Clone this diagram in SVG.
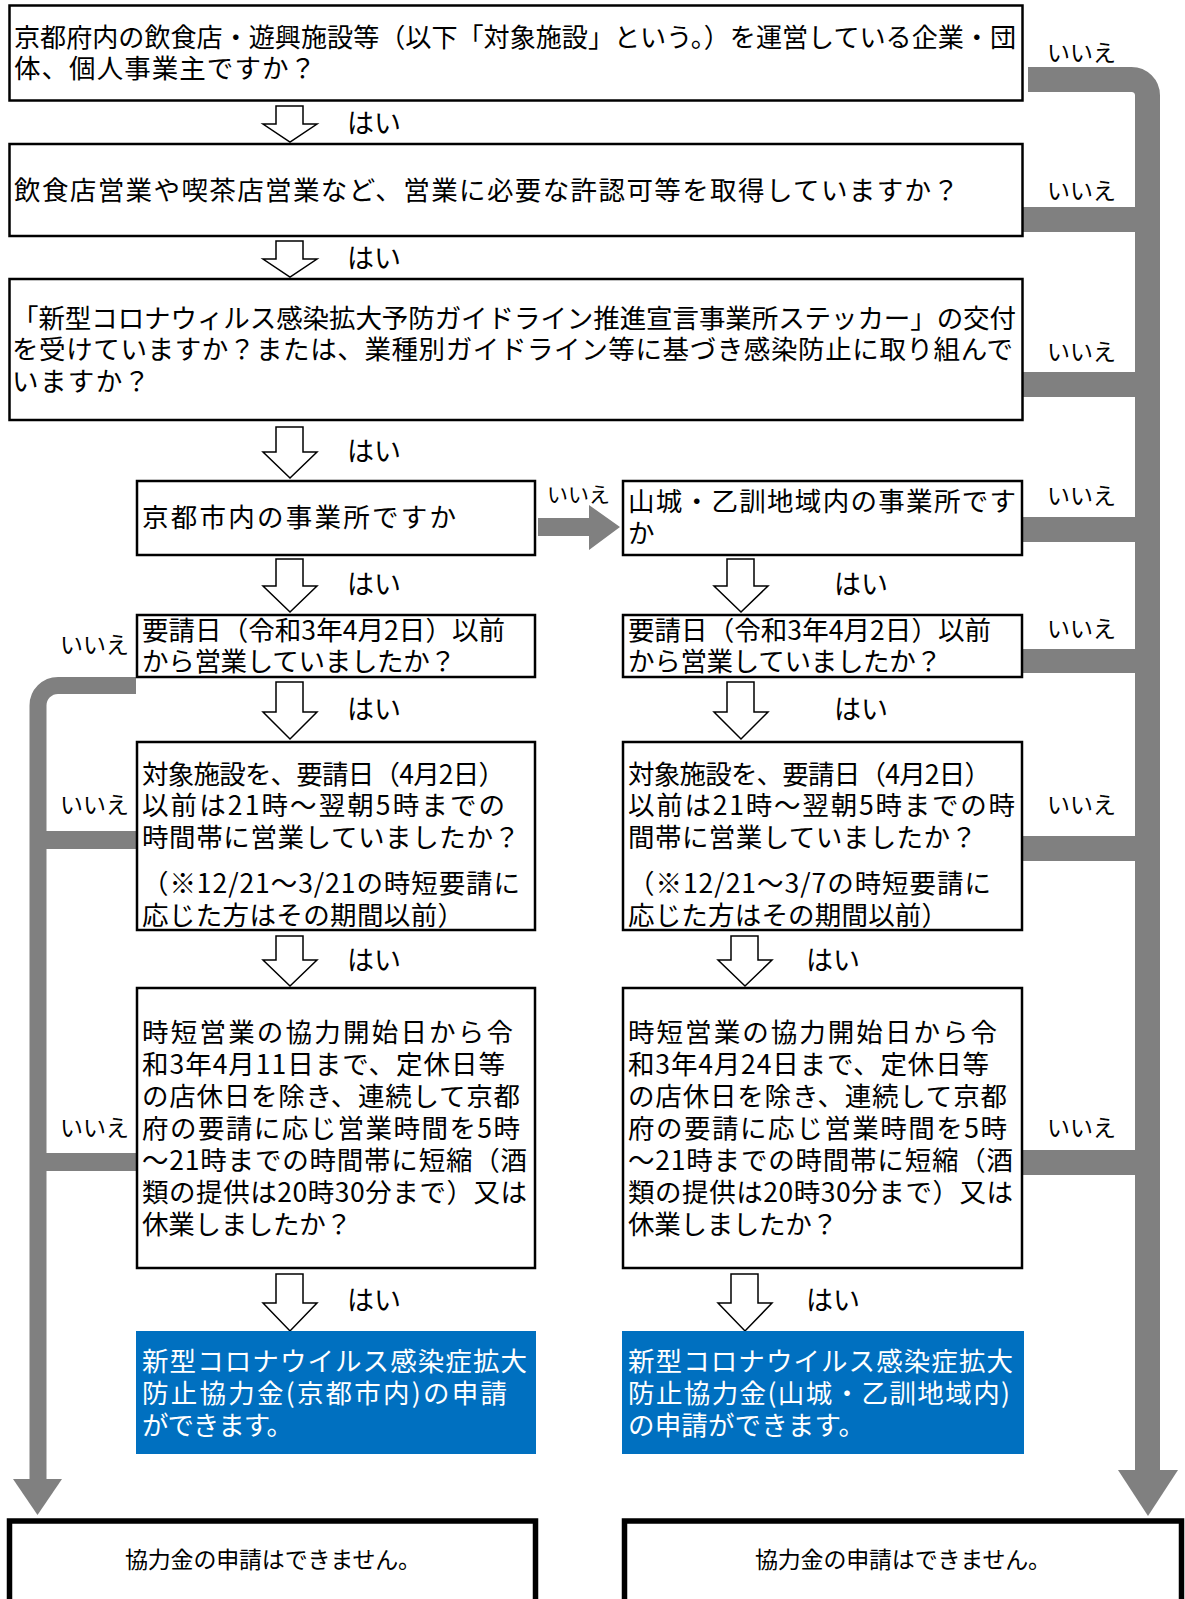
<svg xmlns="http://www.w3.org/2000/svg" width="1185" height="1599" viewBox="0 0 1185 1599">
<style>
text{font-family:"Noto Sans CJK JP","Noto Sans CJK SC",sans-serif;fill:#000}
.t{font-size:26.5px}
.w{font-size:26.5px;fill:#fff}
.no{font-size:23px}
.nm{font-size:21px}
.yes{font-size:27px}
.fin{font-size:23px}
.box{fill:#fff;stroke:#000;stroke-width:2.5}
.fbox{fill:#fff;stroke:#000;stroke-width:5.5}
.blue{fill:#0070C0}
.ya{fill:#fff;stroke:#000;stroke-width:1.5;stroke-linejoin:miter}
.g{fill:#808080}
.gl{fill:none;stroke:#808080}
</style>
<g id="connectors">
<path class="gl" stroke-width="25" d="M1028,79.5 H1131.5 A16,16 0 0 1 1147.5,95.5 V1474"/>
<polygon class="g" points="1118,1470 1178,1470 1148,1516"/>
<rect class="g" x="1020" y="207" width="128" height="25" rx="2"/>
<rect class="g" x="1022" y="372" width="126" height="25"/>
<rect class="g" x="1022" y="517" width="126" height="25"/>
<rect class="g" x="1020" y="649" width="128" height="24" rx="2"/>
<rect class="g" x="1020" y="836" width="128" height="25" rx="2"/>
<rect class="g" x="1020" y="1150" width="128" height="25" rx="2"/>
<path class="gl" stroke-width="17" d="M136,685.5 H58 A20,20 0 0 0 38,705.5 V1482"/>
<polygon class="g" points="13,1479 62,1479 37.5,1515"/>
<rect class="g" x="38" y="831" width="98" height="18"/>
<rect class="g" x="38" y="1153" width="98" height="18"/>
<polygon class="g" points="538,518 589,518 589,505 620,527 589,550 589,536 538,536"/>
<polygon class="ya" points="276,106 303,106 303,124 317,124 290,142 263,124 276,124"/>
<polygon class="ya" points="276,241 303,241 303,259 317,259 290,277 263,259 276,259"/>
<polygon class="ya" points="276,427 303,427 303,452 317,452 290,478 263,452 276,452"/>
<polygon class="ya" points="276,559 303,559 303,586 317,586 290,612 263,586 276,586"/>
<polygon class="ya" points="727,559 754,559 754,586 768,586 741,612 714,586 727,586"/>
<polygon class="ya" points="276,682 303,682 303,712 317,712 290,739 263,712 276,712"/>
<polygon class="ya" points="727,682 754,682 754,712 768,712 741,739 714,712 727,712"/>
<polygon class="ya" points="276,936 303,936 303,960 317,960 290,986 263,960 276,960"/>
<polygon class="ya" points="731,936 758,936 758,960 772,960 745,986 718,960 731,960"/>
<polygon class="ya" points="276,1274 303,1274 303,1303 317,1303 290,1331 263,1303 276,1303"/>
<polygon class="ya" points="731,1274 758,1274 758,1303 772,1303 745,1331 718,1303 731,1303"/>
<text class="yes" x="347" y="133">はい</text>
<text class="yes" x="347" y="268">はい</text>
<text class="yes" x="347" y="461">はい</text>
<text class="yes" x="347" y="594">はい</text>
<text class="yes" x="834" y="594">はい</text>
<text class="yes" x="347" y="719">はい</text>
<text class="yes" x="834" y="719">はい</text>
<text class="yes" x="347" y="970">はい</text>
<text class="yes" x="806" y="970">はい</text>
<text class="yes" x="347" y="1310">はい</text>
<text class="yes" x="806" y="1310">はい</text>
<text class="no" x="1047" y="61">いいえ</text>
<text class="no" x="1047" y="199">いいえ</text>
<text class="no" x="1047" y="360">いいえ</text>
<text class="no" x="1047" y="504">いいえ</text>
<text class="no" x="1047" y="637">いいえ</text>
<text class="no" x="1047" y="813">いいえ</text>
<text class="no" x="1047" y="1136">いいえ</text>
<text class="no" x="60" y="653">いいえ</text>
<text class="no" x="60" y="813">いいえ</text>
<text class="no" x="60" y="1136">いいえ</text>
<text class="nm" x="547" y="502">いいえ</text>
</g>
<g id="q1">
<rect class="box" x="9.5" y="5.5" width="1013" height="95"/>
<text class="t" x="14" y="47" textLength="1002" lengthAdjust="spacingAndGlyphs">京都府内の飲食店・遊興施設等（以下「対象施設」という。）を運営している企業・団</text>
<text class="t" x="14" y="78" textLength="302">体、個人事業主ですか？</text>
</g>
<g id="q2">
<rect class="box" x="9.5" y="144" width="1013" height="92"/>
<text class="t" x="14" y="200" textLength="945">飲食店営業や喫茶店営業など、営業に必要な許認可等を取得していますか？</text>
</g>
<g id="q3">
<rect class="box" x="9.5" y="279" width="1013" height="141"/>
<text class="t" x="12" y="328" textLength="1004">「新型コロナウィルス感染拡大予防ガイドライン推進宣言事業所ステッカー」の交付</text>
<text class="t" x="12" y="359" textLength="1001">を受けていますか？または、業種別ガイドライン等に基づき感染防止に取り組んで</text>
<text class="t" x="12" y="391" textLength="138">いますか？</text>
</g>
<g id="q4-kyoto">
<rect class="box" x="137" y="481" width="398" height="74"/>
<text class="t" x="142" y="527" textLength="314">京都市内の事業所ですか</text>
</g>
<g id="q4-yamashiro">
<rect class="box" x="623" y="481" width="399" height="74"/>
<text class="t" x="628" y="511" textLength="388">山城・乙訓地域内の事業所です</text>
<text class="t" x="628" y="543">か</text>
</g>
<g id="q5-left">
<rect class="box" x="137" y="615" width="398" height="62"/>
<text class="t" x="142" y="640" textLength="363">要請日（令和3年4月2日）以前</text>
<text class="t" x="142" y="671" textLength="314">から営業していましたか？</text>
</g>
<g id="q5-right">
<rect class="box" x="623" y="615" width="399" height="62"/>
<text class="t" x="628" y="640" textLength="363">要請日（令和3年4月2日）以前</text>
<text class="t" x="628" y="671" textLength="314">から営業していましたか？</text>
</g>
<g id="q6-left">
<rect class="box" x="137" y="742" width="398" height="188"/>
<text class="t" x="142" y="784" textLength="363">対象施設を、要請日（4月2日）</text>
<text class="t" x="142" y="815" textLength="363">以前は21時～翌朝5時までの</text>
<text class="t" x="142" y="847" textLength="378">時間帯に営業していましたか？</text>
<text class="t" x="142" y="893" textLength="378">（※12/21～3/21の時短要請に</text>
<text class="t" x="142" y="925" textLength="322">応じた方はその期間以前）</text>
</g>
<g id="q6-right">
<rect class="box" x="623" y="742" width="399" height="188"/>
<text class="t" x="628" y="784" textLength="363">対象施設を、要請日（4月2日）</text>
<text class="t" x="628" y="815" textLength="387">以前は21時～翌朝5時までの時</text>
<text class="t" x="628" y="847" textLength="349">間帯に営業していましたか？</text>
<text class="t" x="628" y="893" textLength="363">（※12/21～3/7の時短要請に</text>
<text class="t" x="628" y="925" textLength="320">応じた方はその期間以前）</text>
</g>
<g id="q7-left">
<rect class="box" x="137" y="988" width="398" height="280"/>
<text class="t" x="142" y="1042" textLength="371">時短営業の協力開始日から令</text>
<text class="t" x="142" y="1074" textLength="363">和3年4月11日まで、定休日等</text>
<text class="t" x="142" y="1106" textLength="378">の店休日を除き、連続して京都</text>
<text class="t" x="142" y="1138" textLength="378">府の要請に応じ営業時間を5時</text>
<text class="t" x="142" y="1170" textLength="385">～21時までの時間帯に短縮（酒</text>
<text class="t" x="142" y="1202" textLength="385">類の提供は20時30分まで）又は</text>
<text class="t" x="142" y="1234" textLength="210">休業しましたか？</text>
</g>
<g id="q7-right">
<rect class="box" x="623" y="988" width="399" height="280"/>
<text class="t" x="628" y="1042" textLength="369">時短営業の協力開始日から令</text>
<text class="t" x="628" y="1074" textLength="361">和3年4月24日まで、定休日等</text>
<text class="t" x="628" y="1106" textLength="379">の店休日を除き、連続して京都</text>
<text class="t" x="628" y="1138" textLength="379">府の要請に応じ営業時間を5時</text>
<text class="t" x="628" y="1170" textLength="385">～21時までの時間帯に短縮（酒</text>
<text class="t" x="628" y="1202" textLength="385">類の提供は20時30分まで）又は</text>
<text class="t" x="628" y="1234" textLength="210">休業しましたか？</text>
</g>
<g id="ok-kyoto">
<rect class="blue" x="136" y="1331" width="400" height="123"/>
<text class="w" x="142" y="1371" textLength="385">新型コロナウイルス感染症拡大</text>
<text class="w" x="142" y="1403" textLength="365">防止協力金(京都市内)の申請</text>
<text class="w" x="142" y="1435" textLength="151">ができます。</text>
</g>
<g id="ok-yamashiro">
<rect class="blue" x="622" y="1331" width="402" height="123"/>
<text class="w" x="628" y="1371" textLength="385">新型コロナウイルス感染症拡大</text>
<text class="w" x="628" y="1403" textLength="382">防止協力金(山城・乙訓地域内)</text>
<text class="w" x="628" y="1435" textLength="237">の申請ができます。</text>
</g>
<g id="ng-left">
<rect class="fbox" x="9.5" y="1521" width="526" height="100"/>
<text class="fin" x="125" y="1568" textLength="296">協力金の申請はできません。</text>
</g>
<g id="ng-right">
<rect class="fbox" x="624.5" y="1521" width="557" height="100"/>
<text class="fin" x="755" y="1568" textLength="296">協力金の申請はできません。</text>
</g>
</svg>
